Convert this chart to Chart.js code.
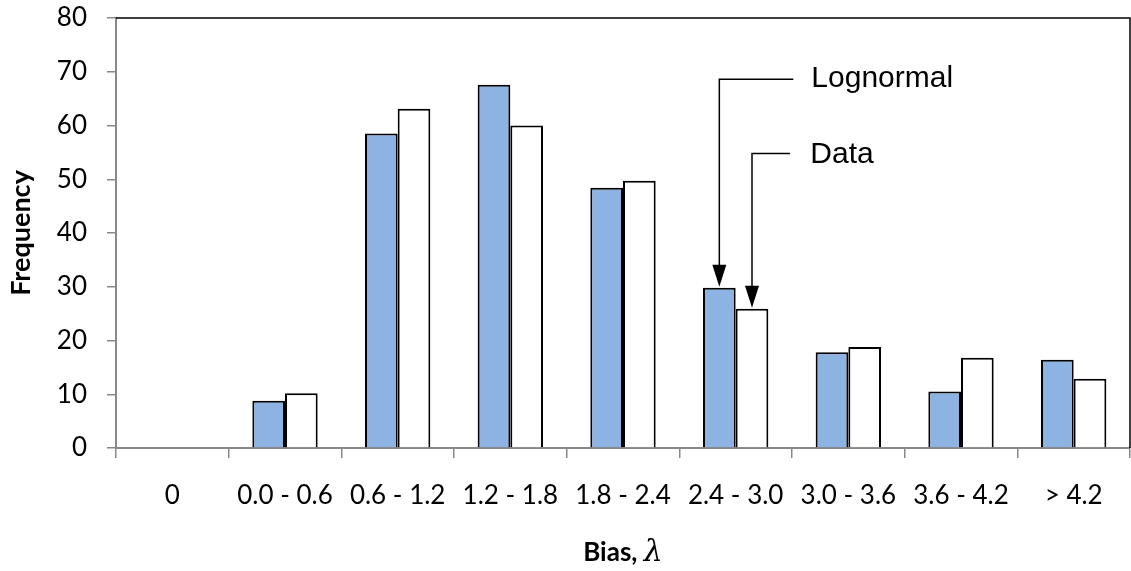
<!DOCTYPE html>
<html>
<head>
<meta charset="utf-8">
<script src="https://cdn.jsdelivr.net/npm/chart.js@4.4.0/dist/chart.umd.min.js"></script>
<style>
  html, body { margin: 0; padding: 0; background: #fff; }
  #wrap { width: 1131px; height: 571px; position: relative; }
</style>
</head>
<body>
<div id="wrap"><canvas id="biasChart"></canvas></div>
<script>
const categories = ["0", "0.0 - 0.6", "0.6 - 1.2", "1.2 - 1.8", "1.8 - 2.4", "2.4 - 3.0", "3.0 - 3.6", "3.6 - 4.2", "> 4.2"];
const lognormalValues = [0, 8.8, 58.5, 67.6, 48.4, 29.8, 17.8, 10.5, 16.4];
const dataValues = [0, 10.2, 63.1, 60.0, 49.7, 25.9, 18.8, 16.8, 12.9];

const tickFont = { family: "Lato", size: 26 };

// black frame on top/right of the plot, axes drawn over it
const frame = {
  id: "frame",
  beforeDatasetsDraw(chart) {
    const { ctx, chartArea: a } = chart;
    ctx.save();
    ctx.strokeStyle = "#000";
    ctx.lineWidth = 1.5;
    ctx.beginPath();
    ctx.moveTo(a.left, a.top);
    ctx.lineTo(a.right, a.top);
    ctx.lineTo(a.right, a.bottom);
    ctx.stroke();
    ctx.restore();
  }
};

function arrow(ctx, x0, y0, xc, tipY) {
  ctx.beginPath();
  ctx.moveTo(x0, y0);
  ctx.lineTo(xc, y0);
  ctx.lineTo(xc, tipY - 20);
  ctx.stroke();
  ctx.beginPath();
  ctx.moveTo(xc - 7, tipY - 22);
  ctx.lineTo(xc + 7, tipY - 22);
  ctx.lineTo(xc, tipY);
  ctx.closePath();
  ctx.fill();
}

const labels = {
  id: "labels",
  afterDatasetsDraw(chart) {
    const { ctx } = chart;
    const y = chart.scales.y;
    const b0 = chart.getDatasetMeta(0).data[5];
    const b1 = chart.getDatasetMeta(1).data[5];
    ctx.save();
    ctx.strokeStyle = "#000";
    ctx.fillStyle = "#000";
    ctx.lineWidth = 1.5;
    const yLog = y.getPixelForValue(68.6);
    const yDat = y.getPixelForValue(54.8);
    arrow(ctx, b0.x + 74, yLog, b0.x, b0.y - 1);
    arrow(ctx, b1.x + 38, yDat, b1.x, b1.y - 1);
    ctx.font = "30px 'Liberation Sans'";
    ctx.textBaseline = "middle";
    ctx.fillText("Lognormal", b0.x + 92, yLog - 1);
    ctx.fillText("Data", b0.x + 91, yDat + 1);

    // x axis title with italic lambda
    ctx.textBaseline = "alphabetic";
    const t1 = "Bias, ";
    ctx.font = "bold 26px Lato";
    const w1 = ctx.measureText(t1).width;
    ctx.font = "italic 30px 'DejaVu Serif'";
    const w2 = ctx.measureText("λ").width;
    const cx = (chart.chartArea.left + chart.chartArea.right) / 2;
    const x = cx - (w1 + w2) / 2;
    ctx.font = "bold 26px Lato";
    ctx.fillText(t1, x, 561);
    ctx.font = "italic 30px 'DejaVu Serif'";
    ctx.fillText("λ", x + w1, 561);
    ctx.restore();
  }
};

new Chart(document.getElementById("biasChart"), {
  type: "bar",
  data: {
    labels: categories,
    datasets: [
      {
        label: "Lognormal",
        data: lognormalValues,
        backgroundColor: "#8DB3E2",
        borderColor: "#000",
        borderWidth: 2
      },
      {
        label: "Data",
        data: dataValues,
        backgroundColor: "#fff",
        borderColor: "#000",
        borderWidth: 2
      }
    ]
  },
  options: {
    responsive: true,
    maintainAspectRatio: false,
    animation: false,
    categoryPercentage: 0.58,
    barPercentage: 1,
    layout: { padding: { top: 18, right: 1, left: 0, bottom: 0 } },
    plugins: {
      legend: { display: false },
      tooltip: { enabled: false }
    },
    scales: {
      x: {
        grid: { drawOnChartArea: false, tickLength: 10, color: "#888", lineWidth: 1.5 },
        border: { color: "#888", width: 2 },
        ticks: { font: tickFont, color: "#000", padding: 22, maxRotation: 0 },
        afterFit(scale) { scale.height = 123; scale.paddingLeft = 0; scale.paddingRight = 0; }
      },
      y: {
        min: 0,
        max: 80,
        grid: { drawOnChartArea: false, tickLength: 9, color: "#888", lineWidth: 1.5 },
        border: { color: "#888", width: 2 },
        ticks: { stepSize: 10, font: tickFont, color: "#000", padding: 20 },
        title: {
          display: true,
          text: "Frequency",
          font: { family: "Lato", size: 27, weight: "bold" },
          color: "#000",
          padding: { top: 5, bottom: 0 }
        },
        afterFit(scale) { scale.width = 116; scale.paddingTop = 0; scale.paddingBottom = 0; }
      }
    }
  },
  plugins: [frame, labels]
});
</script>
</body>
</html>
